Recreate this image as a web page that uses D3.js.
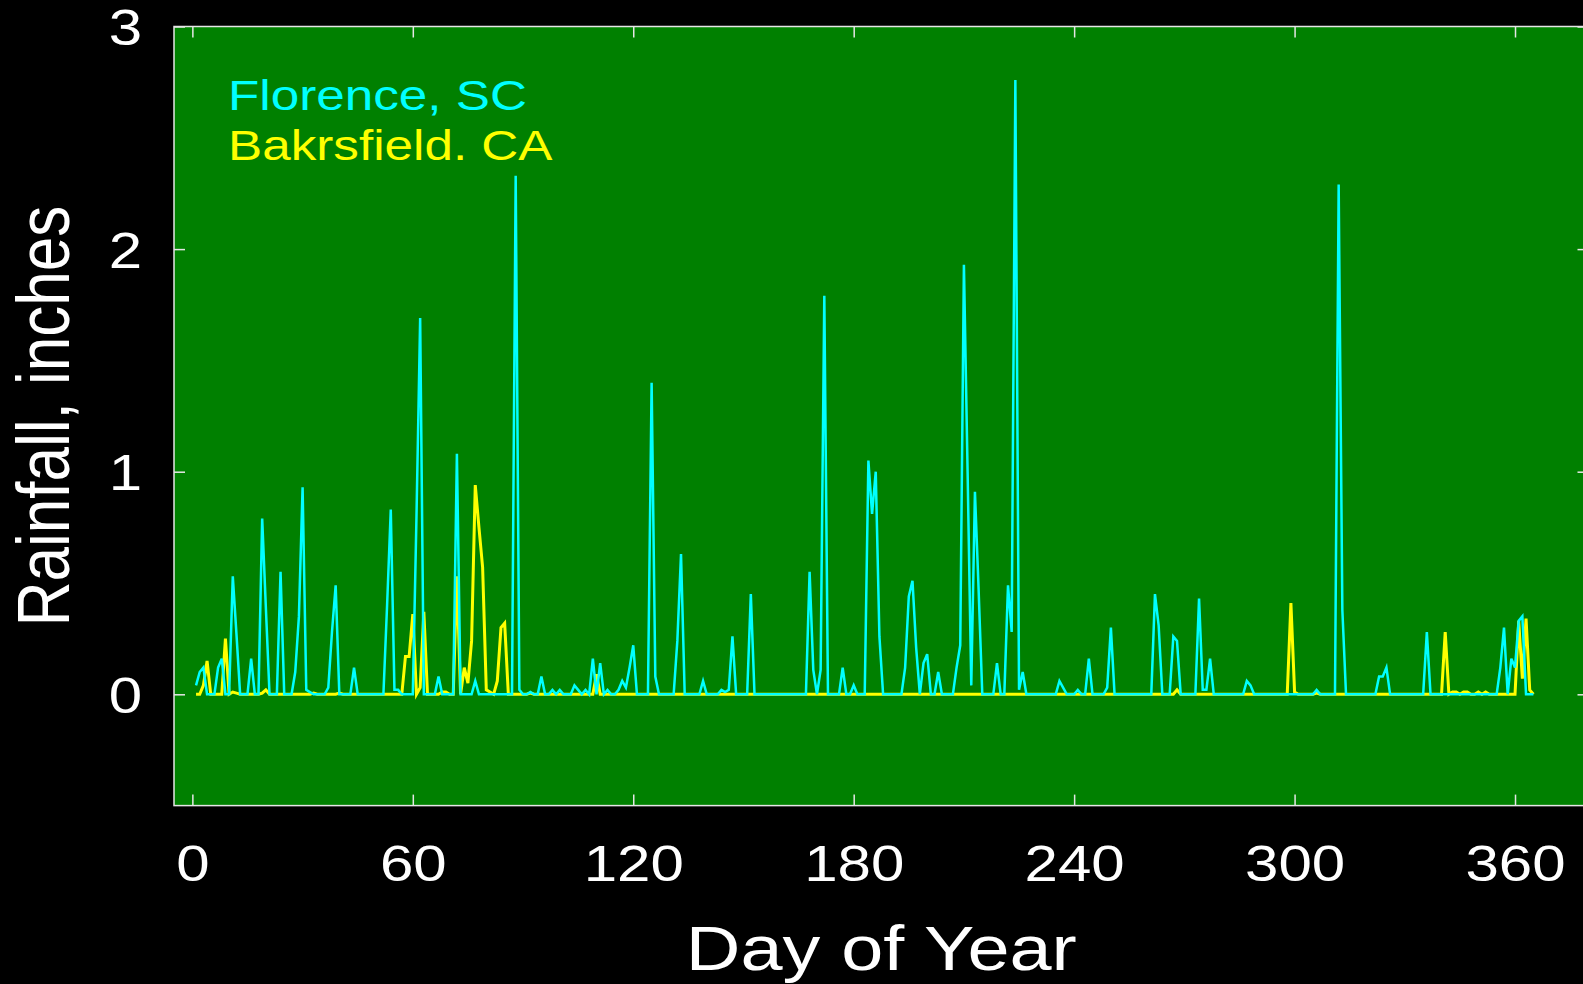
<!DOCTYPE html>
<html lang="en">
<head>
<meta charset="UTF-8">
<title>Rainfall by day of year</title>
<script src="https://cdn.jsdelivr.net/npm/d3@7"></script>
<style>
    body { margin: 0; background: #000; overflow: hidden; }
    text { font-family: "Liberation Sans", Arial, sans-serif; fill: #fff; }
</style>
</head>
<body>
<svg width="1583" height="984"></svg>
<script>

    // day numbers 1..365
    const days = d3.range(1, 366);

    // daily rainfall, inches (10 days per row)
    const florence = [
        .04,.10,.12,0,0,0,.12,.16,0,0,
        .53,.27,0,0,0,.16,0,0,.79,.39,
        0,0,0,.55,0,0,0,.10,.35,.93,
        .02,.01,0,0,0,0,.03,.28,.49,0,
        0,0,0,.12,0,0,0,0,0,0,
        0,0,.40,.83,.02,.02,0,0,0,0,
        .80,1.69,0,0,0,0,.08,0,0,0,
        0,1.08,0,0,0,0,.06,0,0,0,
        0,0,0,0,0,0,0,2.33,.02,0,
        0,.01,0,0,.08,0,0,.02,0,.02,
        0,0,0,.04,.02,0,.02,0,.16,0,
        .14,0,.02,0,0,.02,.06,.03,.12,.22,
        0,0,0,0,1.40,.08,0,0,0,0,
        0,.24,.63,0,0,0,0,0,.06,0,
        0,0,0,.02,.01,.02,.26,0,0,0,
        0,.45,0,0,0,0,0,0,0,0,
        0,0,0,0,0,0,0,.55,.11,0,
        .11,1.79,0,0,0,0,.12,0,0,.04,
        0,0,0,1.05,.81,1.00,.26,0,0,0,
        0,0,0,.12,.44,.51,.21,0,.14,.18,
        0,0,.10,0,0,0,0,.12,.22,1.93,
        1.00,.04,.91,.47,0,0,0,0,.14,0,
        0,.49,.28,2.76,.02,.10,0,0,0,0,
        0,0,0,0,0,.06,.03,0,0,0,
        .02,0,0,.16,0,0,0,0,.03,.30,
        0,0,0,0,0,0,0,0,0,0,
        0,.45,.31,0,0,0,.26,.24,0,0,
        0,0,0,.43,.02,.02,.16,0,0,0,
        0,0,0,0,0,0,.06,.04,0,0,
        0,0,0,0,0,0,0,0,0,0,
        0,0,0,0,0,.02,0,0,0,0,
        0,2.29,.38,0,0,0,0,0,0,0,
        0,0,.08,.08,.12,0,0,0,0,0,
        0,0,0,0,0,.28,0,0,0,0,
        0,0,0,0,0,0,0,0,0,0,
        0,0,0,0,0,.12,.30,0,.16,.12,
        .33,.35,0,0,0
    ];

    const bakersfield = [
        0,0,.04,.15,0,0,0,0,.25,0,
        .01,.005,0,0,0,0,0,0,.005,.02,
        0,0,0,0,0,0,0,0,0,0,
        0,0,.005,0,0,0,0,0,0,.005,
        0,0,0,0,0,0,0,0,0,0,
        0,0,0,0,0,0,0,.17,.17,.36,
        0,.03,.37,0,0,0,0,.01,.01,0,
        0,.53,0,.12,.05,.24,.94,.75,.57,.02,
        .01,0,.06,.30,.32,0,0,0,0,0,
        0,.005,0,0,0,0,0,0,0,0,
        0,0,0,0,0,0,0,0,0,.09,
        0,0,0,0,0,0,0,0,0,0,
        0,0,0,0,0,0,0,0,0,0,
        0,0,0,0,0,0,0,0,0,0,
        0,0,0,0,0,0,0,0,0,0,
        0,0,0,0,0,0,0,0,0,0,
        0,0,0,0,0,0,0,0,0,0,
        0,0,0,0,0,0,0,0,0,0,
        0,0,0,0,0,0,0,0,0,0,
        0,0,0,0,0,0,0,0,0,0,
        0,0,0,0,0,0,0,0,0,0,
        0,0,0,0,0,0,0,0,0,0,
        0,0,0,0,0,0,0,0,0,0,
        0,0,0,0,0,0,0,0,0,0,
        0,0,0,0,0,0,0,0,0,0,
        0,0,0,0,0,0,0,0,0,0,
        0,0,0,0,0,0,0,.02,0,0,
        0,0,0,0,0,0,0,0,0,0,
        0,0,0,0,0,0,0,0,0,0,
        0,0,0,0,0,0,0,0,.41,.01,
        0,0,0,0,0,.005,0,0,0,0,
        0,0,0,0,0,0,0,0,0,0,
        0,0,0,0,0,0,0,0,0,0,
        0,0,0,0,0,0,0,0,0,0,
        .28,0,.01,.01,0,.01,.01,0,0,.01,
        0,.01,0,0,0,0,0,0,0,0,
        .33,.07,.34,.02,0
    ];

    const xTicks = [0, 60, 120, 180, 240, 300, 360];
    const yTicks = [0, 1, 2, 3];
    const seriesNames = ["Florence, SC", "Bakrsfield. CA"];
    const seriesColors = ["#00ffff", "#ffff00"];

    const svg = d3.select("svg");
    const plotLeft = 174, plotTop = 26.5, plotRight = 1588.5, plotBottom = 805.6;
    const sx = 1.2; // text in the original is stretched sideways

    let x = d3.scaleLinear().domain([-5, 380]).range([plotLeft, plotRight]);
    let y = d3.scaleLinear().domain([-0.5, 3]).range([plotBottom, plotTop]);

    svg.append("rect")
        .attr("x", plotLeft).attr("y", plotTop)
        .attr("width", plotRight - plotLeft).attr("height", plotBottom - plotTop)
        .attr("fill", "#008000");

    const line = d3.line()
        .x(function (d) { return x(d.day); })
        .y(function (d) { return y(d.value); });

    function toPoints(values) {
        return days.map(function (d, i) { return {day: d, value: values[i]}; });
    }

    // Bakersfield first, Florence drawn on top
    svg.append("path")
        .datum(toPoints(bakersfield))
        .attr("fill", "none")
        .attr("stroke", seriesColors[1])
        .attr("stroke-width", 3)
        .attr("d", line);

    svg.append("path")
        .datum(toPoints(florence))
        .attr("fill", "none")
        .attr("stroke", seriesColors[0])
        .attr("stroke-width", 2.5)
        .attr("d", line);

    // axes, ticks pointing inwards
    const tickColor = "#e6e6e6";

    let xAxis = svg.append("g")
        .attr("transform", `translate(0,${plotBottom})`)
        .call(d3.axisBottom(x).tickValues(xTicks).tickSizeInner(-11).tickSizeOuter(0).tickPadding(40));
    xAxis.selectAll("text")
        .attr("font-size", 50)
        .attr("transform", `scale(${sx},1)`);

    svg.append("g")
        .attr("transform", `translate(0,${plotTop})`)
        .call(d3.axisTop(x).tickValues(xTicks).tickSizeInner(-11).tickSizeOuter(0).tickFormat(""));

    let yAxis = svg.append("g")
        .attr("transform", `translate(${plotLeft},0)`)
        .call(d3.axisLeft(y).tickValues(yTicks).tickFormat(d3.format("d"))
            .tickSizeInner(-11).tickSizeOuter(0));
    yAxis.selectAll("text")
        .attr("font-size", 50)
        .attr("x", null)
        .attr("dy", "0.36em")
        .attr("transform", `translate(-32,0) scale(${sx},1)`);

    svg.append("g")
        .attr("transform", `translate(${plotRight},0)`)
        .call(d3.axisRight(y).tickValues(yTicks).tickSizeInner(-11).tickSizeOuter(0).tickFormat(""));

    svg.selectAll(".domain").remove();
    svg.selectAll(".tick line").attr("stroke", tickColor).attr("stroke-width", 1.5);
    svg.selectAll(".tick text").attr("fill", "#fff").attr("font-family", null);

    // frame
    svg.append("rect")
        .attr("x", plotLeft).attr("y", plotTop)
        .attr("width", plotRight - plotLeft).attr("height", plotBottom - plotTop)
        .attr("fill", "none")
        .attr("stroke", tickColor)
        .attr("stroke-width", 1.5);

    // axis titles
    svg.append("text")
        .attr("transform", `translate(${(plotLeft + plotRight) / 2},970) scale(${sx},1)`)
        .attr("text-anchor", "middle")
        .attr("font-size", 63)
        .text("Day of Year");

    svg.append("text")
        .attr("transform", `translate(69,${(plotTop + plotBottom) / 2}) scale(${sx},1) rotate(-90)`)
        .attr("text-anchor", "middle")
        .attr("font-size", 62)
        .text("Rainfall, inches");

    // legend, text only
    svg.selectAll(".legend")
        .data(seriesNames)
        .enter().append("text")
        .attr("class", "legend")
        .attr("transform", function (d, i) { return `translate(228,${110 + i * 50}) scale(1.22,1)`; })
        .attr("font-size", 42)
        .style("fill", function (d, i) { return seriesColors[i]; })
        .text(function (d) { return d; });

</script>
</body>
</html>
